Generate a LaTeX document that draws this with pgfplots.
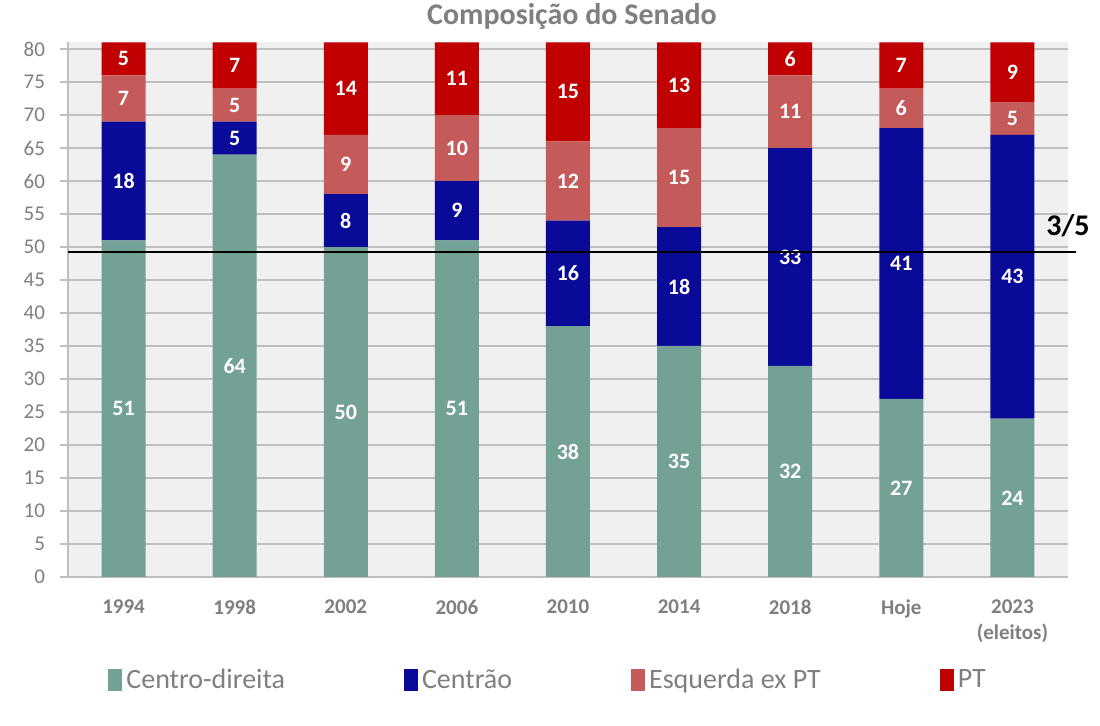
\documentclass[border=0pt]{standalone}
\usepackage{fontspec}
\setmainfont{Carlito}
\usepackage{pgfplots}
\pgfplotsset{compat=1.18}
\usepackage{pgfplotstable}
\definecolor{cdir}{HTML}{73A195}
\definecolor{ctrao}{HTML}{0A0A99}
\definecolor{esq}{HTML}{C55A5A}
\definecolor{ptc}{HTML}{C00000}
\definecolor{bgc}{HTML}{F0F0F0}
\definecolor{gridc}{HTML}{BFBFBF}
\definecolor{txt}{HTML}{7F7F7F}

% ptv: part of the PT bar visible below the axis top (81); pt: label value
\pgfplotstableread{
x cd ce es pt ptv
0 51 18 7 5 5
1 64 5 5 7 7
2 50 8 9 14 14
3 51 9 10 11 11
4 38 16 12 15 15
5 35 18 15 13 13
6 32 33 11 6 5
7 27 41 6 7 7
8 24 43 5 9 9
}\data

\begin{document}
\begin{tikzpicture}
\path[use as bounding box, fill=white] (-34pt,-74.5pt) rectangle (516pt,288.5pt);
\begin{axis}[
  scale only axis, width=500pt, height=267.3pt,
  ybar stacked, bar width=22pt,
  xmin=-0.5, xmax=8.5, ymin=0, ymax=81,
  ytick={0,5,...,80},
  xtick={0,...,8},
  xticklabels={1994,1998,2002,2006,2010,2014,2018,Hoje,{2023\\(eleitos)}},
  xticklabel style={align=center, font=\bfseries\fontsize{10.5}{13}\selectfont, text=txt, yshift=-4pt},
  yticklabel style={font=\fontsize{10.5}{12}\selectfont, text=txt, xshift=-4pt},
  /pgf/number format/assume math mode=true,
  axis background/.style={fill=bgc},
  ymajorgrids, grid style={gridc, line width=0.8pt},
  axis x line*=bottom, axis y line*=left,
  axis line style={gridc, line width=0.8pt, -},
  x axis line style={-}, y axis line style={-},
  xtick style={draw=none},
  ytick style={gridc, line width=0.8pt},
  tick align=outside, major tick length=4pt,
  title={Composição do Senado},
  title style={at={(0.504,1)}, anchor=center, yshift=7pt, font=\bfseries\fontsize{15}{18}\selectfont, text=txt},
  nodes near coords,
  every node near coord/.append style={anchor=center, text=white, font=\bfseries\fontsize{11}{13}\selectfont},
  legend columns=4,
  legend style={at={(0.034,-0.193)}, anchor=west, draw=none, fill=none,
    font=\fontsize{14}{16}\selectfont, text=txt,
    /tikz/every even column/.append style={column sep=57.5pt},
    /tikz/every odd column/.append style={column sep=0pt}},
  legend image code/.code={\fill[#1] (0pt,-5.5pt) rectangle (7pt,5.5pt);},
]
\addplot[fill=cdir, draw=none] table[x=x, y=cd] {\data};
\addlegendentry{Centro-direita}
\addplot[fill=ctrao, draw=none] table[x=x, y=ce] {\data};
\addlegendentry{Centrão}
\addplot[fill=esq, draw=none] table[x=x, y=es] {\data};
\addlegendentry{Esquerda ex PT}
\addplot[fill=ptc, draw=none, point meta=explicit] table[x=x, y=ptv, meta=pt] {\data};
\addlegendentry{PT}
\coordinate (l0) at (axis cs:-0.5,49.3);
\coordinate (l1) at (axis cs:8.5,49.3);
\end{axis}
\draw[black, line width=1pt] (l0) -- ([xshift=4pt]l1);
\node[font=\bfseries\fontsize{15}{18}\selectfont, text=black] at ([yshift=13pt,xshift=0pt]l1) {3/5};
\end{tikzpicture}
\end{document}
